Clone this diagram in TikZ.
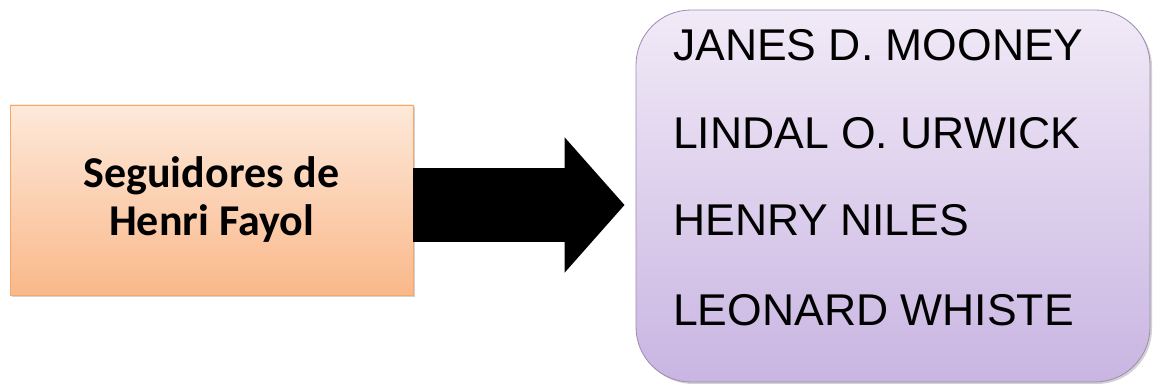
\documentclass[tikz,border=0pt]{standalone}
\usepackage{fontspec}
\setmainfont{Liberation Sans}
\newfontfamily\calib{Carlito}
\usetikzlibrary{arrows.meta,shadows}
\definecolor{peachtop}{HTML}{FDE9DA}
\definecolor{peachbot}{HTML}{FAB88A}
\definecolor{peachline}{HTML}{F5A86A}
\definecolor{lavtop}{HTML}{F1EAF7}
\definecolor{lavbot}{HTML}{C9B5E2}
\definecolor{lavline}{HTML}{9C8BB0}
\tikzset{
  srcbox/.style={draw=peachline, line width=0.8pt, top color=peachtop, bottom color=peachbot,
    minimum width=403pt, minimum height=190pt, inner sep=0pt,
    drop shadow={shadow xshift=2pt, shadow yshift=-2pt, fill=black!35, opacity=0.5},
    font=\calib\bfseries\fontsize{44}{48}\selectfont, align=center},
  listbox/.style={draw=lavline, line width=0.8pt, top color=lavtop, bottom color=lavbot,
    rounded corners=55pt, minimum width=514pt, minimum height=372pt, inner sep=0pt,
    drop shadow={shadow xshift=2pt, shadow yshift=-2pt, fill=black!35, opacity=0.5}},
  item/.style={anchor=west, font=\fontsize{44.5}{44.5}\selectfont, inner sep=0pt},
  bigarrow/.style={line width=74pt, -{Triangle[length=60pt,width=132pt]}, black}
}
\begin{document}
\begin{tikzpicture}[x=1pt,y=1pt]
\useasboundingbox (0,0) rectangle (1165,391);
\node[srcbox] (src) at (211.5,191) {Seguidores de\\Henri Fayol};
\node[listbox] (lst) at (893,195) {};
\node[item] (n1) at (673,346) {JANES D. MOONEY};
\node[item] (n2) at (673,258) {LINDAL O. URWICK};
\node[item] (n3) at (673,171) {HENRY NILES};
\node[item] (n4) at (673,81) {LEONARD WHISTE};
\draw[bigarrow] ([yshift=-5pt]src.east) -- ([xshift=-11pt,yshift=-5pt]src.east -| lst.west);
\end{tikzpicture}
\end{document}
